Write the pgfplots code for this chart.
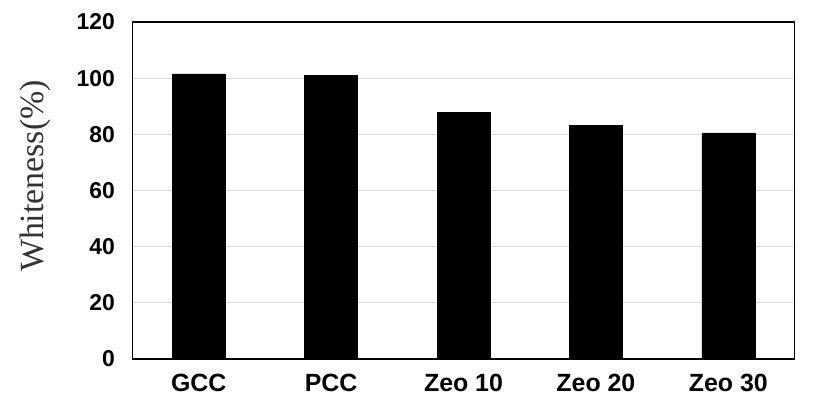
\documentclass[border=0pt]{standalone}
\usepackage{fontspec}
\setmainfont{Liberation Serif}
\setsansfont{Liberation Sans}
\usepackage{pgfplots}
\pgfplotsset{compat=1.18}
\definecolor{gridgray}{HTML}{D9D9D9}
\begin{document}
\begin{tikzpicture}
\useasboundingbox (-132.5bp,-50bp) rectangle (684.5bp,359bp);
\begin{axis}[
  at={(0,0)}, anchor=south west,
  scale only axis,
  width=662bp, height=337bp,
  xmin=-0.5, xmax=4.5,
  ymin=0, ymax=120,
  ytick={0,20,...,120},
  xtick={0,1,2,3,4},
  xticklabels={GCC,PCC,Zeo 10,Zeo 20,Zeo 30},
  major tick length=0pt,
  ymajorgrids,
  grid style={gridgray, line width=1bp},
  axis line style={black, line width=1.2bp},
  /pgf/number format/assume math mode=true,
  yticklabel style={font=\fontsize{23}{23}\selectfont\sffamily\bfseries, xshift=-14bp},
  xticklabel style={font=\fontsize{25}{25}\selectfont\sffamily\bfseries, yshift=-12bp},
  ylabel={Whiteness(\%)},
  ylabel style={font=\fontsize{34}{34}\selectfont, text=black!80, at={(axis description cs:-0.1473,0.543)}, anchor=center},
]
\addplot[ybar, bar width=53bp, fill=black, draw=black] coordinates {
  (0,101.5) (1,101.0) (2,87.8) (3,83.2) (4,80.5)
};
\end{axis}
\end{tikzpicture}
\end{document}
